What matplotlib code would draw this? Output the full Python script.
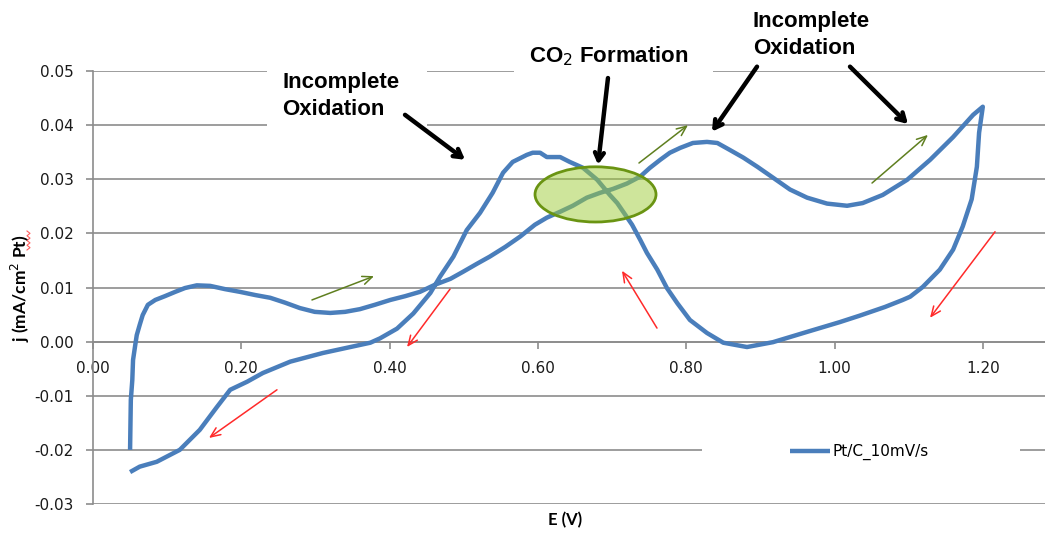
import numpy as np
import matplotlib
matplotlib.use("Agg")
import matplotlib.pyplot as plt
from matplotlib.patches import Ellipse, Rectangle
from matplotlib.lines import Line2D

# ---- cyclic voltammogram, Pt/C at 10 mV/s ----
E_forward = [0.050, 0.051, 0.053, 0.054, 0.057, 0.059, 0.063, 0.067, 0.074, 0.084,
             0.097, 0.111, 0.124, 0.140, 0.158, 0.178, 0.198, 0.219, 0.239, 0.259,
             0.279, 0.299, 0.320, 0.340, 0.360, 0.380, 0.401, 0.421, 0.441, 0.461,
             0.482, 0.499, 0.518, 0.535, 0.556, 0.576, 0.596, 0.612, 0.630, 0.647,
             0.666, 0.684, 0.701, 0.720, 0.738, 0.751, 0.765, 0.778, 0.792, 0.809,
             0.828, 0.842, 0.859, 0.877, 0.896, 0.917, 0.940, 0.963, 0.990, 1.017,
             1.038, 1.065, 1.098, 1.129, 1.160, 1.187, 1.200]
j_forward = [-0.0200, -0.0108, -0.0071, -0.0034, -0.0006, 0.0012, 0.0031, 0.0049, 0.0068, 0.0077,
             0.0084, 0.0092, 0.0099, 0.0104, 0.0103, 0.0097, 0.0092, 0.0086, 0.0081, 0.0072,
             0.0062, 0.0055, 0.0053, 0.0055, 0.0060, 0.0068, 0.0077, 0.0084, 0.0092, 0.0105,
             0.0116, 0.0129, 0.0144, 0.0157, 0.0175, 0.0194, 0.0216, 0.0229, 0.0240, 0.0251,
             0.0266, 0.0275, 0.0282, 0.0292, 0.0305, 0.0321, 0.0336, 0.0349, 0.0358, 0.0367,
             0.0369, 0.0367, 0.0354, 0.0340, 0.0323, 0.0303, 0.0281, 0.0266, 0.0255, 0.0251,
             0.0256, 0.0271, 0.0299, 0.0336, 0.0378, 0.0419, 0.0434]

E_reverse = [1.195, 1.192, 1.185, 1.173, 1.160, 1.142, 1.119, 1.102, 1.092, 1.068,
             1.034, 1.007, 0.963, 0.917, 0.882, 0.850, 0.828, 0.805, 0.788, 0.774,
             0.761, 0.747, 0.738, 0.727, 0.715, 0.707, 0.697, 0.680, 0.661, 0.643,
             0.630, 0.612, 0.603, 0.593, 0.585, 0.566, 0.553, 0.539, 0.522, 0.504,
             0.486, 0.468, 0.455, 0.432, 0.410, 0.387, 0.374, 0.347, 0.310, 0.266,
             0.229, 0.208, 0.185, 0.167, 0.144, 0.117, 0.086, 0.063, 0.050]
j_reverse = [0.0386, 0.0323, 0.0263, 0.0213, 0.0170, 0.0133, 0.0101, 0.0083, 0.0077, 0.0064,
             0.0048, 0.0036, 0.0018, -0.0001, -0.0010, -0.0002, 0.0016, 0.0040, 0.0071, 0.0099,
             0.0133, 0.0164, 0.0188, 0.0216, 0.0240, 0.0256, 0.0271, 0.0299, 0.0321, 0.0332,
             0.0341, 0.0341, 0.0349, 0.0349, 0.0345, 0.0332, 0.0312, 0.0275, 0.0238, 0.0206,
             0.0157, 0.0120, 0.0090, 0.0052, 0.0024, 0.0006, -0.0002, -0.0010, -0.0021, -0.0037,
             -0.0058, -0.0074, -0.0089, -0.0121, -0.0163, -0.0200, -0.0222, -0.0231, -0.0241]

series_label = "Pt/C_10mV/s"
x_ticks = [0.0, 0.2, 0.4, 0.6, 0.8, 1.0, 1.2]
y_ticks = [-0.03, -0.02, -0.01, 0.00, 0.01, 0.02, 0.03, 0.04, 0.05]

E = np.array(E_forward + E_reverse)
j = np.array(j_forward + j_reverse)

W, H = 1045, 535
fig = plt.figure(figsize=(W / 100, H / 100), dpi=100)
ax = fig.add_axes([93 / W, 31 / H, (W - 93) / W, 433 / H])

GRID = "#8c8c8c"
BLUE = "#4a7ebb"
RED = "#ff2a2a"
OLIVE = "#5f7f1f"

ax.set_xlim(0, (W - 93) / 741.5)
ax.set_ylim(-0.03, 0.05)
ax.set_xticks(x_ticks)
ax.set_xticklabels([f"{v:.2f}" for v in x_ticks])
ax.set_yticks(y_ticks)
ax.set_yticklabels([f"{v:.2f}" for v in y_ticks])

ax.yaxis.grid(True, color=GRID, lw=1.2, zorder=0)
ax.set_axisbelow(True)
for s in ("top", "right"):
    ax.spines[s].set_visible(False)
ax.spines["left"].set_color(GRID)
ax.spines["left"].set_linewidth(1.2)
ax.spines["bottom"].set_position(("data", 0))
ax.spines["bottom"].set_color(GRID)
ax.spines["bottom"].set_linewidth(1.2)
ax.tick_params(axis="both", colors=GRID, labelcolor="#1a1a1a", labelsize=11,
               length=5, width=1.2, direction="out")
ax.tick_params(axis="y", pad=9)
ax.tick_params(axis="x", pad=9)

# white boxes behind the callout texts and the legend
def pix_box(x0, y0, x1, y1):
    # rectangle given in figure pixels (origin top-left)
    r = Rectangle((x0 / W, 1 - y1 / H), (x1 - x0) / W, (y1 - y0) / H,
                  transform=fig.transFigure, facecolor="white", edgecolor="none",
                  zorder=1)
    ax.add_artist(r)
    r.set_clip_on(False)

pix_box(267, 58, 427, 131)
pix_box(514, 35, 713, 80)
pix_box(702, 425, 1020, 478)

ax.plot(E, j, color=BLUE, lw=3.2, solid_joinstyle="round", solid_capstyle="butt",
        zorder=3, label=series_label)

# CO2 region highlight
ax.add_patch(Ellipse((0.6777, 0.0272), 0.1632, 0.0102, facecolor=(0.62, 0.80, 0.22),
                     alpha=0.5, edgecolor="none", zorder=4))
ax.add_patch(Ellipse((0.6777, 0.0272), 0.1632, 0.0102, facecolor="none",
                     edgecolor="#6a9412", lw=2, zorder=5))

# scan direction arrows
def small_arrow(p0, p1, color):
    ax.annotate("", xy=p1, xytext=p0,
                arrowprops=dict(arrowstyle="->,head_length=0.7,head_width=0.3",
                                color=color, lw=1.1, shrinkA=0, shrinkB=0),
                zorder=6, annotation_clip=False)

small_arrow((0.2953, 0.0077), (0.3790, 0.0121), OLIVE)
small_arrow((0.7363, 0.0330), (0.8024, 0.0400), OLIVE)
small_arrow((1.0506, 0.0293), (1.1261, 0.0382), OLIVE)
small_arrow((0.4815, 0.0097), (0.4235, -0.0010), RED)
small_arrow((0.2481, -0.0089), (0.1564, -0.0178), RED)
small_arrow((0.7606, 0.0025), (0.7134, 0.0131), RED)
small_arrow((1.2165, 0.0203), (1.1288, 0.0044), RED)

# callout arrows
def big_arrow(p0, p1):
    ax.annotate("", xy=p1, xytext=p0,
                arrowprops=dict(arrowstyle="->,head_length=0.55,head_width=0.32",
                                color="black", lw=3.2, shrinkA=0, shrinkB=0),
                zorder=7, annotation_clip=False)

big_arrow((0.4208, 0.0419), (0.5017, 0.0336))
big_arrow((0.6945, 0.0487), (0.6811, 0.0327))
big_arrow((0.8955, 0.0508), (0.8348, 0.0388))
big_arrow((1.0209, 0.0508), (1.0991, 0.0402))

# callout texts (figure pixels, baseline anchored)
def pix_text(x, y, s, **kw):
    fig.text(x / W, 1 - y / H, s, **kw)

ann = dict(fontsize=16, fontweight="bold", family="Liberation Sans", color="black",
           va="baseline", zorder=8)
pix_text(282, 88, "Incomplete", ha="left", **ann)
pix_text(282, 115, "Oxidation", ha="left", **ann)
pix_text(753, 27, "Incomplete", ha="left", **ann)
pix_text(753, 54, "Oxidation", ha="left", **ann)
pix_text(609, 62, "CO$_2$ Formation", ha="center", **ann)

# axis titles
fig.text(565 / W, 1 - 520 / H, "E (V)", ha="center", va="center",
         fontsize=12, fontweight="bold", family="Lato")
fig.text(20 / W, 1 - 288 / H, "j (mA/cm$^2$ Pt)", ha="center", va="center",
         rotation=90, fontsize=12.5, fontweight="bold", family="Lato")
# spell-check squiggle under "Pt"
zy = np.linspace(231, 250, 9)
zx = np.where(np.arange(9) % 2 == 0, 27, 30)
fig.add_artist(Line2D(zx / W, 1 - zy / H, color="#ff6060", lw=0.8,
                      transform=fig.transFigure))

leg = ax.legend(loc="center left", bbox_to_anchor=(790 / W, 1 - 452 / H),
                bbox_transform=fig.transFigure, frameon=False, fontsize=11,
                handlelength=2.6, handletextpad=0.15, borderpad=0, borderaxespad=0)
leg.set_zorder(9)

fig.savefig("out.png", dpi=100)
